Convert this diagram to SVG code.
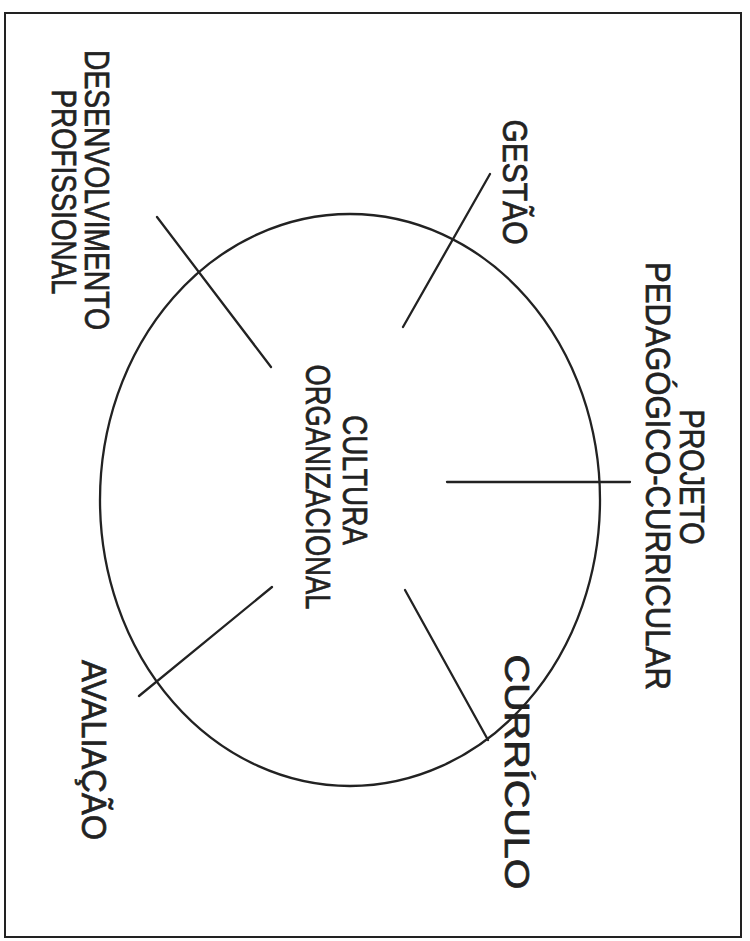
<svg xmlns="http://www.w3.org/2000/svg" width="750" height="941" viewBox="0 0 750 941">
<style>
.lbl{font-family:"Liberation Sans","DejaVu Sans",sans-serif;font-size:35px;fill:#222;stroke:#222;stroke-width:0.7;text-anchor:middle}
.ln{stroke:#222;stroke-width:2.3;fill:none;stroke-linecap:round}
</style>
<rect x="0" y="0" width="750" height="941" fill="#fff"/>
<rect x="5" y="13" width="736" height="924" fill="none" stroke="#222" stroke-width="2"/>
<g id="centro">
<ellipse cx="350" cy="500" rx="250" ry="286" class="ln"/>
<text class="lbl" transform="translate(343,480) rotate(90)" textLength="130" lengthAdjust="spacingAndGlyphs">CULTURA</text>
<text class="lbl" transform="translate(306,487) rotate(90)" textLength="245" lengthAdjust="spacingAndGlyphs">ORGANIZACIONAL</text>
</g>
<g id="connectors">
<line x1="157" y1="217" x2="271" y2="367" class="ln"/>
<line x1="490" y1="174" x2="403" y2="327" class="ln"/>
<line x1="447" y1="482" x2="630" y2="482" class="ln"/>
<line x1="405" y1="590" x2="488" y2="740" class="ln"/>
<line x1="272" y1="587" x2="139" y2="696" class="ln"/>
</g>
<g id="desenvolvimento">
<text class="lbl" transform="translate(85,190) rotate(90)" textLength="280" lengthAdjust="spacingAndGlyphs">DESENVOLVIMENTO</text>
<text class="lbl" transform="translate(52,192) rotate(90)" textLength="205" lengthAdjust="spacingAndGlyphs">PROFISSIONAL</text>
</g>
<g id="gestao">
<text class="lbl" transform="translate(503,182) rotate(90)" textLength="125" lengthAdjust="spacingAndGlyphs">GESTÃO</text>
</g>
<g id="projeto">
<text class="lbl" transform="translate(680,477) rotate(90)" textLength="135" lengthAdjust="spacingAndGlyphs">PROJETO</text>
<text class="lbl" transform="translate(646,476) rotate(90)" textLength="428" lengthAdjust="spacingAndGlyphs">PEDAGÓGICO-CURRICULAR</text>
</g>
<g id="curriculo">
<text class="lbl" transform="translate(505,772) rotate(90)" textLength="235" lengthAdjust="spacingAndGlyphs">CURRÍCULO</text>
</g>
<g id="avaliacao">
<text class="lbl" transform="translate(82,750) rotate(90)" textLength="180" lengthAdjust="spacingAndGlyphs">AVALIAÇÃO</text>
</g>
</svg>
